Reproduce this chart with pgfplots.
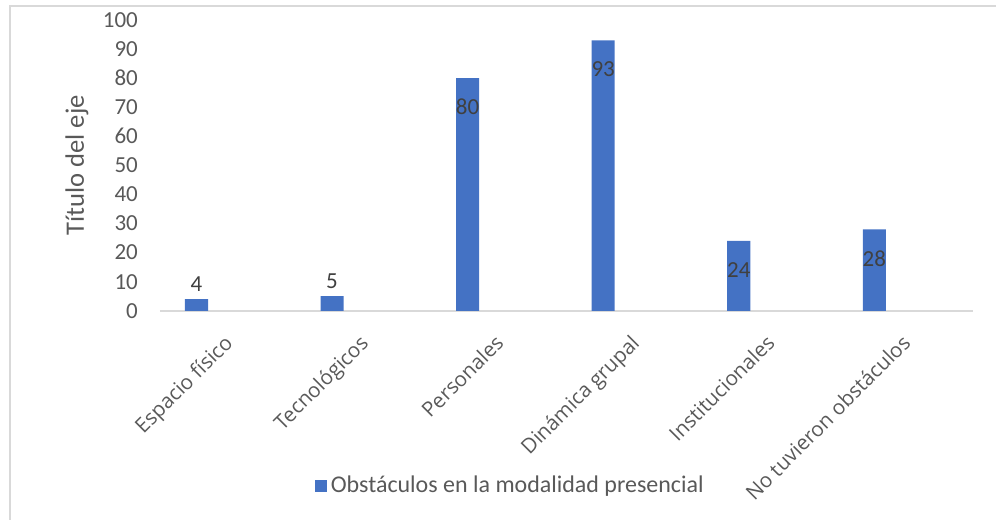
\documentclass[border=0pt]{standalone}
\usepackage{pgfplots}
\pgfplotsset{compat=1.18}
\usepackage{fontspec}
\setmainfont{Carlito}
\newfontfamily\tickfont{Open Sans}
\definecolor{barblue}{HTML}{4472C4}
\definecolor{txt}{HTML}{595959}
\definecolor{lbl}{HTML}{404040}
\definecolor{axc}{HTML}{D9D9D9}
\begin{document}
\begin{tikzpicture}
\path (0,0) rectangle (498.5pt,260pt);
\draw[axc, line width=0.75pt] (5pt,0pt) -- (5pt,257pt) -- (498.5pt,257pt);
\begin{axis}[
  at={(80pt,104.5pt)}, anchor=south west,
  scale only axis, width=407pt, height=145.5pt,
  xmin=-0.5, xmax=5.5, ymin=0, ymax=100,
  ytick={0,10,...,100},
  xtick={0,1,2,3,4,5},
  xticklabels={Espacio físico,Tecnológicos,Personales,Dinámica grupal,Institucionales,No tuvieron obstáculos},
  axis lines*=left,
  y axis line style={draw=none},
  x axis line style={draw=axc, line width=0.9pt},
  major tick length=0pt,
  tick label style={font=\fontsize{11.5}{13}\selectfont, text=txt},
  /pgf/number format/assume math mode=true,
  yticklabel style={xshift=-7.5pt},
  xticklabel style={rotate=45, anchor=north east, font=\tickfont\fontsize{10.3}{12}\selectfont, xshift=-6.2pt, yshift=-2.7pt},
  ylabel={Título del eje},
  ylabel style={at={(axis description cs:-0.102,0.5)}, anchor=center, font=\fontsize{13.3}{15}\selectfont, text=txt},
  legend style={at={(axis description cs:0.432,-0.601)}, anchor=center, draw=none, fill=none,
    font=\fontsize{12}{14}\selectfont, text=txt, inner sep=0pt},
  legend image code/.code={\fill[barblue] (0pt,-3pt) rectangle (6pt,3pt);},
  clip=false,
]
\addplot[ybar, bar width=0.17, bar shift=-0.23, fill=barblue, draw=none,
  nodes near coords, every node near coord/.append style={anchor=center, xshift=-15.6pt, yshift=-14.5pt, font=\fontsize{11.5}{13}\selectfont, text=lbl},
  /pgf/number format/assume math mode=true]
  coordinates {(2,80) (3,93) (4,24) (5,28)};
\addlegendentry{Obstáculos en la modalidad presencial}
\addplot[ybar, bar width=0.17, bar shift=-0.23, fill=barblue, draw=none, forget plot,
  nodes near coords, every node near coord/.append style={anchor=center, xshift=-15.6pt, yshift=7.3pt, font=\fontsize{11.5}{13}\selectfont, text=lbl},
  /pgf/number format/assume math mode=true]
  coordinates {(0,4) (1,5)};
\end{axis}
\end{tikzpicture}
\end{document}
